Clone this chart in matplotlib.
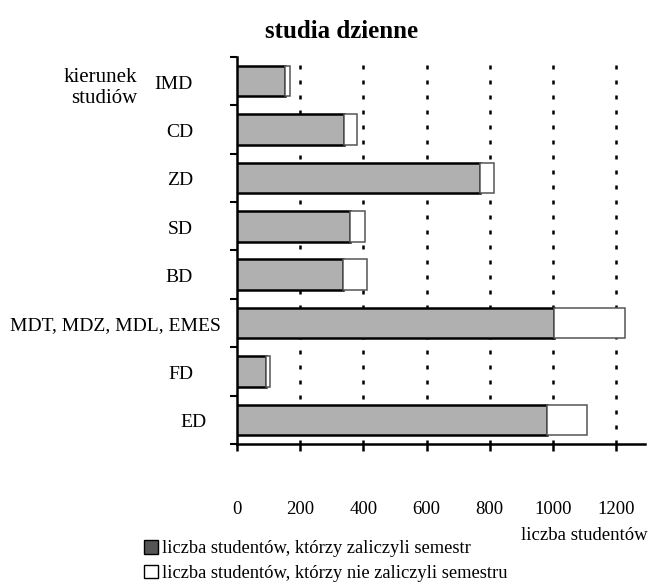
import numpy as np
import matplotlib
matplotlib.use("Agg")
import matplotlib.pyplot as plt
import matplotlib.transforms as mtransforms
from matplotlib.patches import Patch

plt.rcParams['font.family'] = ['Liberation Serif', 'DejaVu Serif']

# kierunki studiow (od gory)
kierunki = ["IMD", "CD", "ZD", "SD", "BD", "MDT, MDZ, MDL, EMES", "FD", "ED"]
# studenci, ktorzy zaliczyli semestr
zaliczyli = [151, 339, 769, 359, 336, 1003, 91, 980]
# studenci, ktorzy nie zaliczyli semestru
nie_zaliczyli = [18, 41, 45, 46, 74, 226, 15, 129]
x_ticks = [0, 200, 400, 600, 800, 1000, 1200]

fig = plt.figure(figsize=(6.5, 5.82), dpi=100)
ax = fig.add_axes([0.3646, 0.2372, 0.628, 0.6649])

y = np.arange(len(kierunki))
ax.barh(y, zaliczyli, height=0.63, color='#b0b0b0', edgecolor='black',
        linewidth=1.8, zorder=3)
ax.barh(y, nie_zaliczyli, left=zaliczyli, height=0.63, color='white',
        edgecolor='#555555', linewidth=1.1, zorder=3)

for xv in x_ticks[1:]:
    ax.axvline(xv, color='black', lw=1.8, dashes=(1.6, 4.4), zorder=1)

ax.set_xlim(0, 1292)
ax.set_ylim(len(kierunki) - 0.5, -0.5)

# etykiety kierunkow - w oryginale nie sa rowno wyrownane
ax.set_yticks(y)
ax.set_yticklabels([])
ax.tick_params(axis='y', which='major', length=0)
shift = {"MDT, MDZ, MDL, EMES": 28, "ED": 14}
for yi, name in zip(y, kierunki):
    tr = ax.get_yaxis_transform() + mtransforms.ScaledTranslation(
        (shift.get(name, 0) - 44) / 100, -0.03, fig.dpi_scale_trans)
    ax.text(0, yi, name, transform=tr, ha='right', va='center', fontsize=14)

ax.set_yticks(np.arange(len(kierunki) + 1) - 0.5, minor=True)
ax.tick_params(axis='y', which='minor', length=5, width=1.5, direction='out')

ax.set_xticks(x_ticks)
ax.set_xticklabels([str(v) for v in x_ticks], fontsize=13.5)
ax.tick_params(axis='x', length=5, width=1.8, direction='out', pad=36)

for s in ['top', 'right']:
    ax.spines[s].set_visible(False)
for s in ['left', 'bottom']:
    ax.spines[s].set_linewidth(1.8)

fig.text(342 / 650, 1 - 31 / 582, "studia dzienne", fontsize=18,
         fontweight='bold', ha='center', va='center')
fig.text(137 / 650, 1 - 88 / 582, "kierunek\nstudiów", fontsize=15,
         ha='right', va='center', linespacing=1.2)
fig.text(648 / 650, 1 - 535 / 582, "liczba studentów", fontsize=13.5,
         ha='right', va='center')

handles = [Patch(facecolor='#555555', edgecolor='black', linewidth=1),
           Patch(facecolor='white', edgecolor='black', linewidth=1)]
labels = ["liczba studentów, którzy zaliczyli semestr",
          "liczba studentów, którzy nie zaliczyli semestru"]
fig.legend(handles, labels, loc='upper left', bbox_to_anchor=(144 / 650, 1 - 540 / 582),
           frameon=False, fontsize=13.3, handlelength=0.75, handleheight=0.75,
           handletextpad=0.25, labelspacing=0.4, borderpad=0, borderaxespad=0)

fig.savefig("out.png", dpi=100)
